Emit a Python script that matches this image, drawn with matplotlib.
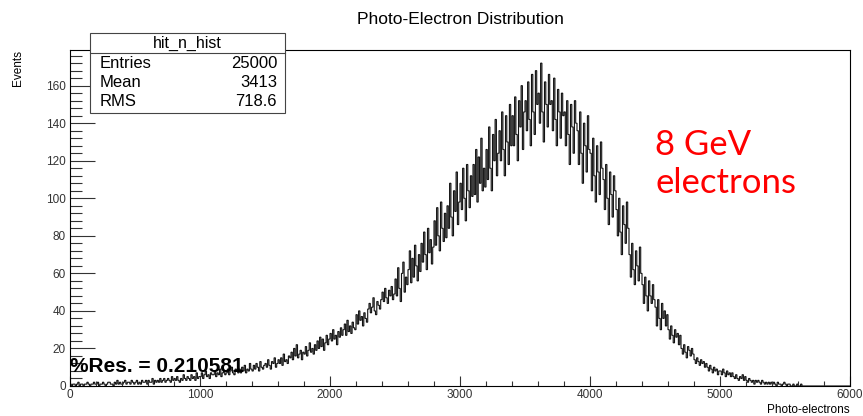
import numpy as np
import matplotlib.pyplot as plt
from matplotlib.patches import Rectangle
from matplotlib.lines import Line2D
from matplotlib.ticker import MultipleLocator

# hit_n_hist: 600 bins of 10 photo-electrons, 0..6000 (one row = 100 bins)
counts = [
    1, 0, 1, 1, 0, 1, 2, 0, 1, 1,   0, 1, 1, 2, 1, 0, 1, 1, 2, 1,
    1, 2, 0, 1, 1, 2, 1, 0, 1, 2,   2, 1, 1, 0, 2, 1, 3, 1, 2, 1,
    1, 2, 3, 1, 2, 2, 1, 3, 2, 1,   2, 3, 1, 2, 1, 3, 2, 2, 3, 1,
    3, 2, 2, 4, 1, 3, 2, 3, 2, 4,   2, 3, 4, 2, 3, 4, 3, 2, 5, 3,
    4, 3, 5, 3, 2, 4, 3, 6, 4, 3,   5, 4, 3, 6, 4, 5, 3, 7, 4, 5,
    # 1000
    5, 7, 4, 6, 8, 5, 6, 4, 7, 6,   6, 8, 5, 7, 6, 9, 5, 7, 8, 6,
    7, 9, 6, 8, 10, 7, 6, 9, 8, 7,  9, 7, 10, 8, 11, 7, 9, 8, 12, 9,
    8, 11, 9, 12, 10, 8, 13, 10, 9, 11,  12, 10, 14, 11, 9, 13, 12, 15, 10, 12,
    14, 12, 15, 11, 17, 13, 14, 12, 16, 15,  18, 14, 20, 16, 22, 15, 17, 19, 14, 18,
    17, 21, 16, 19, 23, 18, 20, 17, 22, 19,  24, 20, 26, 21, 25, 19, 23, 27, 22, 25,
    # 2000
    28, 24, 30, 25, 27, 22, 29, 26, 31, 27,  30, 33, 27, 35, 29, 32, 28, 34, 31, 30,
    38, 33, 40, 35, 37, 32, 39, 36, 34, 41,  44, 39, 42, 47, 40, 38, 45, 43, 41, 46,
    50, 45, 52, 47, 44, 51, 48, 53, 46, 49,  57, 48, 63, 52, 45, 60, 66, 50, 58, 54,
    62, 72, 55, 68, 58, 75, 64, 56, 70, 61,  76, 66, 82, 70, 62, 84, 71, 78, 65, 74,
    88, 75, 95, 80, 72, 98, 84, 77, 92, 79,  96, 84, 108, 90, 80, 104, 93, 114, 86, 98,
    # 3000
    108, 94, 116, 100, 88, 118, 104, 95, 112, 101,  118, 102, 126, 98, 122, 108, 132, 104, 116, 106,
    126, 110, 138, 116, 104, 134, 120, 142, 112, 124,  136, 120, 146, 126, 112, 144, 130, 118, 150, 128,
    144, 128, 154, 134, 120, 152, 138, 160, 126, 146,  152, 136, 162, 142, 128, 166, 146, 134, 168, 150,
    156, 140, 172, 146, 130, 162, 150, 138, 166, 150,  152, 136, 164, 142, 128, 158, 146, 132, 156, 144,
    146, 128, 152, 134, 118, 150, 138, 124, 152, 140,  136, 118, 146, 124, 108, 140, 128, 114, 144, 126,
    # 4000
    124, 104, 132, 112, 98, 128, 114, 102, 130, 116,  110, 94, 118, 100, 86, 114, 102, 90, 112, 104,
    94, 80, 100, 82, 70, 96, 86, 76, 98, 84,  70, 58, 76, 62, 54, 72, 64, 56, 74, 60,
    54, 44, 58, 48, 40, 56, 48, 44, 54, 46,  42, 32, 46, 36, 30, 44, 36, 40, 32, 38,
    30, 25, 32, 27, 23, 30, 26, 28, 22, 27,  20, 17, 22, 18, 15, 21, 19, 16, 20, 17,
    14, 12, 15, 13, 11, 14, 12, 13, 10, 12,  10, 8, 11, 9, 7, 10, 8, 9, 6, 8,
    # 5000
    8, 6, 9, 7, 5, 8, 6, 7, 5, 7,   5, 4, 6, 4, 3, 5, 4, 6, 3, 5,
    3, 2, 4, 3, 2, 3, 1, 3, 2, 3,   2, 1, 3, 2, 1, 2, 1, 2, 1, 2,
    1, 2, 1, 0, 2, 1, 1, 0, 1, 2,   1, 0, 1, 1, 0, 0, 1, 0, 0, 1,
    0, 0, 1, 0, 0, 0, 0, 0, 0, 0,   0, 0, 0, 0, 0, 0, 0, 0, 0, 0,
    0, 0, 0, 0, 0, 0, 0, 0, 0, 0,   0, 0, 0, 0, 0, 0, 0, 0, 0, 0,
]
x_lo, x_hi = 0, 6000

stat_names = ['Entries', 'Mean', 'RMS']
stat_values = ['25000', '3413', '718.6']
hist_name = 'hit_n_hist'
resolution = 0.210581

plt.rcParams['font.family'] = ['Liberation Sans', 'DejaVu Sans']

W, H = 863, 416
fig = plt.figure(figsize=(W / 100, H / 100), dpi=100)

def fx(px):
    return px / W

def fy(py):
    return 1 - py / H

ax = fig.add_axes([fx(70), fy(386), fx(850) - fx(70), fy(50) - fy(386)])
edges = np.linspace(x_lo, x_hi, len(counts) + 1)
ax.stairs(counts, edges, color='#111111', lw=0.8)

ax.set_xlim(x_lo, x_hi)
ax.set_ylim(0, 179)
ax.xaxis.set_major_locator(MultipleLocator(1000))
ax.xaxis.set_minor_locator(MultipleLocator(200))
ax.yaxis.set_major_locator(MultipleLocator(20))
ax.yaxis.set_minor_locator(MultipleLocator(4))
ax.tick_params(axis='y', which='major', direction='in', length=18, width=0.8,
               labelsize=8.5, pad=3, colors='#333333')
ax.tick_params(axis='y', which='minor', direction='in', length=8.5, width=0.8,
               colors='#333333')
ax.tick_params(axis='x', which='major', direction='in', length=7, width=0.8,
               labelsize=8.5, pad=2, colors='#333333')
ax.tick_params(axis='x', which='minor', direction='in', length=3.5, width=0.8,
               colors='#333333')
for s in ax.spines.values():
    s.set_linewidth(0.8)

fig.text(fx(460), fy(20), 'Photo-Electron Distribution', ha='center', va='center',
         fontsize=12.5)
fig.text(fx(18), fy(50), 'Events', rotation=90, ha='center', va='top', fontsize=8.5)
fig.text(fx(850), fy(413), 'Photo-electrons', ha='right', va='baseline', fontsize=8.5)

# stats box
bx0, bx1, by0, by1 = fx(90), fx(285), fy(113), fy(33)
fig.add_artist(Rectangle((bx0, by0), bx1 - bx0, by1 - by0, transform=fig.transFigure,
                         facecolor='white', edgecolor='#444444', lw=0.8, zorder=5))
fig.add_artist(Line2D([bx0, bx1], [fy(53), fy(53)], transform=fig.transFigure,
                      color='#444444', lw=0.8, zorder=6))
fig.text((bx0 + bx1) / 2, fy(43), hist_name, ha='center', va='center',
         fontsize=11.5, zorder=7)
for k, (name, val) in enumerate(zip(stat_names, stat_values)):
    yy = fy(63 + 19.5 * k)
    fig.text(fx(100), yy, name, ha='left', va='center', fontsize=12, zorder=7)
    fig.text(fx(277), yy, val, ha='right', va='center', fontsize=12, zorder=7)

fig.text(fx(70), fy(372), '%Res. = ' + str(resolution), ha='left', va='baseline',
         fontsize=15, fontweight='bold')

fig.text(fx(655), fy(155), '8 GeV', ha='left', va='baseline', fontsize=25,
         color='#ff0000', family=['Lato', 'DejaVu Sans'])
fig.text(fx(655), fy(193), 'electrons', ha='left', va='baseline', fontsize=25,
         color='#ff0000', family=['Lato', 'DejaVu Sans'])

fig.savefig('out.png', dpi=100)
